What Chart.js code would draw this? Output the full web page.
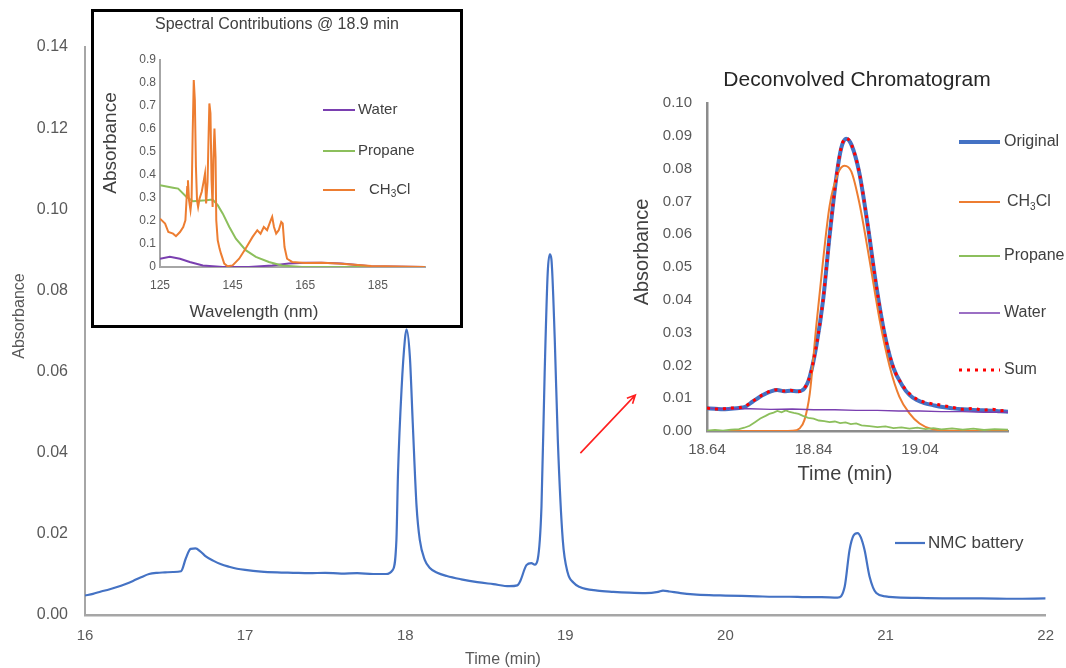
<!DOCTYPE html>
<html>
<head>
<meta charset="utf-8">
<script src="https://cdn.jsdelivr.net/npm/chart.js@4.4.1/dist/chart.umd.min.js"></script>
<style>
  html, body { margin: 0; padding: 0; background: #fff; }
  #wrap { position: relative; width: 1066px; height: 668px; overflow: hidden; }
  #main { position: absolute; left: 0; top: 0; }
  #specBox { position: absolute; left: 91px; top: 9px; width: 372px; height: 319px;
             box-sizing: border-box; border: 3px solid #000; background: #fff; }
  #spec { position: absolute; left: 0; top: 0; }
  #decon { position: absolute; left: 622px; top: 62px; }
</style>
</head>
<body>
<div id="wrap">
  <canvas id="main" width="1066" height="668"></canvas>
  <div id="specBox"><canvas id="spec" width="366" height="313"></canvas></div>
  <canvas id="decon" width="444" height="430"></canvas>
</div>
<script>
// ---- NMC battery chromatogram ----
const nmcTime = [16.00, 16.05, 16.10, 16.15, 16.20, 16.25, 16.30, 16.35, 16.40, 16.45, 16.50, 16.55,
  16.60, 16.63, 16.66, 16.69, 16.72, 16.75, 16.80, 16.85, 16.90, 16.95, 17.00, 17.10, 17.20, 17.30,
  17.40, 17.50, 17.60, 17.70, 17.80, 17.88, 17.92, 17.945, 17.955, 17.977, 17.998, 18.008, 18.029,
  18.047, 18.071, 18.091, 18.122, 18.154, 18.20, 18.26, 18.35, 18.45, 18.55, 18.65, 18.70, 18.72,
  18.757, 18.788, 18.809, 18.828, 18.851, 18.871, 18.890, 18.903, 18.913, 18.934, 18.953, 18.984,
  19.015, 19.05, 19.09, 19.20, 19.30, 19.40, 19.50, 19.58, 19.61, 19.65, 19.72, 19.80, 19.90, 20.00,
  20.10, 20.20, 20.30, 20.40, 20.50, 20.60, 20.70, 20.745, 20.775, 20.80, 20.825, 20.845, 20.869,
  20.90, 20.942, 21.00, 21.044, 21.20, 21.40, 21.60, 21.80, 22.00];
const nmcAbs = [0.0048, 0.0052, 0.0058, 0.0063, 0.0069, 0.0076, 0.0084, 0.0093, 0.0101, 0.0104, 0.0105, 0.0106,
  0.0108, 0.0140, 0.0163, 0.0164, 0.0157, 0.0146, 0.0134, 0.0125, 0.0119, 0.0114, 0.0111, 0.0107, 0.0105, 0.0104,
  0.0103, 0.0104, 0.0102, 0.0103, 0.0101, 0.0101, 0.0110, 0.0185, 0.0350, 0.0556, 0.0679, 0.0704, 0.0637,
  0.0474, 0.0267, 0.0185, 0.0136, 0.0116, 0.0104, 0.0096, 0.0088, 0.0081, 0.0076, 0.0071, 0.0073, 0.0085,
  0.0123, 0.0128, 0.0124, 0.0138, 0.0267, 0.0598, 0.0844, 0.0889, 0.0877, 0.0679, 0.0432, 0.0185,
  0.0104, 0.0080, 0.0069, 0.0060, 0.0057, 0.0055, 0.0054, 0.0057, 0.0060, 0.0058, 0.0054, 0.0051, 0.0049, 0.0048,
  0.0047, 0.0046, 0.0045, 0.0045, 0.0044, 0.0044, 0.0043, 0.0070, 0.0160, 0.0196, 0.0202, 0.0192, 0.0160,
  0.0095, 0.0054, 0.0046, 0.0044, 0.0042, 0.0041, 0.0041, 0.0040, 0.0041];
const mainXTicks = [16, 17, 18, 19, 20, 21, 22];
const mainYTicks = [0, 0.02, 0.04, 0.06, 0.08, 0.10, 0.12, 0.14];
const arrowFrom = [19.094, 0.0399];
const arrowTo = [19.437, 0.0542];

// ---- spectra at 18.9 min ----
const waterNm = [125, 127.7, 130.5, 133.2, 136.8, 142.3, 149.5, 155.9, 160.5, 165, 169.5, 175, 183, 198];
const waterSpec = [0.036, 0.044, 0.036, 0.022, 0.007, 0.0, 0.0, 0.007, 0.015, 0.019, 0.019, 0.015, 0.003, 0.0];
const propaneNm = [125, 128.6, 130, 132.3, 134.1, 137.7, 139.5, 140.9, 142.3, 144.1, 145.9, 148.6, 151.4,
  155, 158.6, 164.1, 198];
const propaneSpec = [0.356, 0.345, 0.341, 0.305, 0.286, 0.29, 0.293, 0.269, 0.232, 0.174, 0.123, 0.073, 0.044,
  0.022, 0.007, 0.0, 0.0];
const chlNm = [125, 126.4, 127.3, 128.6, 129.4, 130.5, 131.4, 132, 132.5, 132.7, 133, 133.4, 133.7, 134,
  134.3, 134.6, 134.9, 135.2, 135.5, 135.9, 136.5, 137, 137.4, 137.7, 138.1, 138.4, 138.6, 138.9, 139.2,
  139.5, 139.7, 140, 140.3, 140.5, 140.9, 141.4, 141.8, 142.7, 143.6, 145, 146.8, 148.6, 150.5, 151.8,
  152.7, 153.6, 154.5, 155.5, 155.9, 156.4, 157, 157.7, 158.4, 158.8, 159.3, 160, 161.4, 165, 169.5,
  174.1, 183.2, 198];
const chlSpec = [0.21, 0.189, 0.152, 0.145, 0.134, 0.152, 0.174, 0.203, 0.348, 0.377, 0.29, 0.247, 0.29, 0.58,
  0.813, 0.726, 0.435, 0.29, 0.261, 0.298, 0.327, 0.37, 0.406, 0.276, 0.37, 0.58, 0.711, 0.668, 0.377,
  0.261, 0.465, 0.602, 0.479, 0.203, 0.116, 0.08, 0.058, 0.015, 0.003, 0.007, 0.036, 0.08, 0.131, 0.16,
  0.145, 0.174, 0.16, 0.203, 0.218, 0.174, 0.145, 0.16, 0.196, 0.189, 0.087, 0.036, 0.022, 0.017, 0.019,
  0.015, 0.004, 0.0];
const specXTicks = [125, 145, 165, 185];
const specYTicks = [0, 0.1, 0.2, 0.3, 0.4, 0.5, 0.6, 0.7, 0.8, 0.9];

// ---- deconvolution of the 18.9 min peak ----
const peakTime = [18.640, 18.655, 18.670, 18.685, 18.700, 18.712, 18.726, 18.745, 18.760, 18.772, 18.785,
  18.797, 18.810, 18.823, 18.833, 18.845, 18.858, 18.870, 18.883, 18.892, 18.901, 18.911, 18.926, 18.942,
  18.958, 18.973, 18.989, 19.008, 19.020, 19.033, 19.048, 19.064, 19.082, 19.101, 19.120, 19.139, 19.158,
  19.176, 19.190, 19.205];
const originalAbs = [0.0069, 0.0068, 0.0066, 0.0068, 0.0070, 0.0074, 0.0090, 0.0110, 0.0121, 0.0125, 0.0121,
  0.0123, 0.0121, 0.0130, 0.0166, 0.0257, 0.0400, 0.0593, 0.0776, 0.0863, 0.0891, 0.0873, 0.0786, 0.0624,
  0.0440, 0.0298, 0.0196, 0.0135, 0.0110, 0.0095, 0.0085, 0.0079, 0.0073, 0.0069, 0.0066, 0.0064, 0.0063,
  0.0062, 0.0060, 0.0059];
const sumAbs = [0.0070, 0.0067, 0.0068, 0.0070, 0.0071, 0.0076, 0.0091, 0.0111, 0.0122, 0.0126, 0.0122,
  0.0124, 0.0120, 0.0131, 0.0167, 0.0258, 0.0401, 0.0594, 0.0777, 0.0865, 0.0893, 0.0874, 0.0787, 0.0625,
  0.0441, 0.0300, 0.0198, 0.0137, 0.0114, 0.0098, 0.0088, 0.0083, 0.0078, 0.0072, 0.0066, 0.0069, 0.0064,
  0.0066, 0.0062, 0.0063];
const chlTime = [18.640, 18.700, 18.760, 18.800, 18.814, 18.823, 18.833, 18.845, 18.858, 18.870, 18.886,
  18.898, 18.911, 18.926, 18.945, 18.964, 18.983, 19.001, 19.020, 19.039, 19.064, 19.100, 19.205];
const chlAbs = [0, 0, 0, 0.0001, 0.0008, 0.0034, 0.0115, 0.0318, 0.0522, 0.0685, 0.0786, 0.0809, 0.0791,
  0.0695, 0.0522, 0.0339, 0.0196, 0.0105, 0.0054, 0.0023, 0.0005, 0.0001, 0];
const propaneTime = [18.640, 18.655, 18.670, 18.685, 18.700, 18.710, 18.720, 18.730, 18.740, 18.750, 18.757,
  18.765, 18.772, 18.780, 18.788, 18.795, 18.803, 18.812, 18.820, 18.830, 18.840, 18.850, 18.860, 18.870,
  18.880, 18.890, 18.900, 18.910, 18.920, 18.930, 18.945, 18.960, 18.975, 18.990, 19.005, 19.020, 19.035,
  19.050, 19.065, 19.080, 19.100, 19.120, 19.140, 19.160, 19.180, 19.205];
const propaneAbs = [0.0001, 0.0003, 0.0001, 0.0004, 0.0006, 0.0010, 0.0016, 0.0027, 0.0038, 0.0046, 0.0052,
  0.0056, 0.0061, 0.0057, 0.0063, 0.0058, 0.0055, 0.0052, 0.0046, 0.0040, 0.0038, 0.0032, 0.0030, 0.0027,
  0.0029, 0.0024, 0.0026, 0.0021, 0.0023, 0.0017, 0.0015, 0.0012, 0.0014, 0.0009, 0.0011, 0.0007, 0.0010,
  0.0006, 0.0009, 0.0005, 0.0008, 0.0004, 0.0007, 0.0003, 0.0006, 0.0004];
const waterTime = [18.640, 18.680, 18.720, 18.760, 18.800, 18.840, 18.880, 18.920, 18.960, 19.000, 19.040,
  19.080, 19.120, 19.160, 19.205];
const waterAbs = [0.0069, 0.0068, 0.0068, 0.0066, 0.0067, 0.0065, 0.0065, 0.0063, 0.0063, 0.0061, 0.0061,
  0.0059, 0.0059, 0.0057, 0.0057];
const deconXTicks = [18.64, 18.84, 19.04];
const deconYTicks = [0, 0.01, 0.02, 0.03, 0.04, 0.05, 0.06, 0.07, 0.08, 0.09, 0.10];

const FONT = "'Liberation Sans', Arial, sans-serif";
const BLUE = '#4472C4', ORANGE = '#ED7D31', GREEN = '#8CBF5C', PURPLE = '#7A3FB0';

const pts = (xs, ys) => xs.map((x, i) => ({ x, y: ys[i] }));

// formula labels like CH3Cl get their digits written as subscripts
function drawLabel(ctx, label, x, y, size, color) {
  const chem = /^[A-Z][A-Za-z]*\d/.test(label);
  const parts = chem ? label.split(/(\d+)/) : [label];
  ctx.save();
  ctx.fillStyle = color;
  ctx.textAlign = 'left';
  ctx.textBaseline = 'middle';
  parts.forEach((p, k) => {
    if (!p) return;
    const sub = chem && k % 2 === 1;
    ctx.font = `${sub ? Math.round(size * 0.65) : size}px ${FONT}`;
    ctx.fillText(p, x, sub ? y + size * 0.3 : y);
    x += ctx.measureText(p).width;
  });
  ctx.restore();
}

// titles, axis titles and a plain side legend, all at fixed canvas spots
function textLayer(items, legend) {
  return {
    id: 'textLayer',
    afterDraw(chart) {
      const ctx = chart.ctx;
      items.forEach((t) => {
        ctx.save();
        ctx.font = `${t.size}px ${FONT}`;
        ctx.fillStyle = t.color || '#404040';
        ctx.textAlign = 'center';
        ctx.textBaseline = 'middle';
        ctx.translate(t.x, t.y);
        if (t.rotate) ctx.rotate(-Math.PI / 2);
        ctx.fillText(t.text, 0, 0);
        ctx.restore();
      });
      if (!legend) return;
      chart.data.datasets.forEach((ds, i) => {
        const y = legend.rows[i];
        ctx.save();
        ctx.strokeStyle = ds.borderColor;
        ctx.lineWidth = ds.borderWidth;
        ctx.setLineDash(ds.borderDash || []);
        ctx.beginPath();
        ctx.moveTo(legend.x, y);
        ctx.lineTo(legend.x + legend.len, y);
        ctx.stroke();
        ctx.restore();
        drawLabel(ctx, ds.label, legend.textX + (ds.legendIndent || 0), y, legend.size, legend.color || '#404040');
      });
    },
  };
}

const arrowLayer = {
  id: 'arrowLayer',
  afterDraw(chart) {
    const { ctx, scales: { x, y } } = chart;
    const x1 = x.getPixelForValue(arrowFrom[0]), y1 = y.getPixelForValue(arrowFrom[1]);
    const x2 = x.getPixelForValue(arrowTo[0]), y2 = y.getPixelForValue(arrowTo[1]);
    const a = Math.atan2(y2 - y1, x2 - x1);
    ctx.save();
    ctx.strokeStyle = '#FF2020';
    ctx.lineWidth = 1.6;
    ctx.beginPath();
    ctx.moveTo(x1, y1);
    ctx.lineTo(x2, y2);
    ctx.moveTo(x2 - 9 * Math.cos(a - 0.45), y2 - 9 * Math.sin(a - 0.45));
    ctx.lineTo(x2, y2);
    ctx.lineTo(x2 - 9 * Math.cos(a + 0.45), y2 - 9 * Math.sin(a + 0.45));
    ctx.stroke();
    ctx.restore();
  },
};

function axis(opts) {
  return {
    type: 'linear',
    min: opts.min,
    max: opts.max,
    grid: { display: false, drawTicks: false },
    border: { display: true, color: opts.lineColor || '#a6a6a6', width: opts.lineWidth || 2 },
    afterBuildTicks: (s) => { s.ticks = opts.ticks.map((v) => ({ value: v })); },
    afterFit: (s) => {
      if (opts.width) s.width = opts.width;
      if (opts.height) s.height = opts.height;
    },
    ticks: {
      autoSkip: false,
      maxRotation: 0,
      padding: opts.padding,
      color: '#595959',
      font: { family: FONT, size: opts.fontSize },
      callback: opts.fmt,
    },
  };
}

Chart.defaults.animation = false;
Chart.defaults.responsive = false;
Chart.defaults.plugins.legend.display = false;
Chart.defaults.plugins.tooltip.enabled = false;
Chart.defaults.elements.point.radius = 0;

new Chart(document.getElementById('main'), {
  type: 'line',
  data: {
    datasets: [{
      label: 'NMC battery',
      data: pts(nmcTime, nmcAbs),
      borderColor: BLUE,
      borderWidth: 2.2,
      cubicInterpolationMode: 'monotone',
    }],
  },
  options: {
    layout: { padding: { top: 47, right: 19, left: 0, bottom: 0 } },
    scales: {
      x: axis({ min: 16, max: 22, ticks: mainXTicks, height: 53, padding: 12, fontSize: 15,
        lineWidth: 2.5, fmt: (v) => String(v) }),
      y: axis({ min: 0, max: 0.14, ticks: mainYTicks, width: 85, padding: 17, fontSize: 16,
        fmt: (v) => v.toFixed(2) }),
    },
  },
  plugins: [
    arrowLayer,
    textLayer(
      [
        { text: 'Absorbance', x: 20, y: 316, size: 16, rotate: true, color: '#595959' },
        { text: 'Time (min)', x: 503, y: 660, size: 16, color: '#595959' },
      ],
      { rows: [543], x: 895, len: 30, textX: 928, size: 17 }
    ),
  ],
});

new Chart(document.getElementById('spec'), {
  type: 'line',
  data: {
    datasets: [
      { label: 'Water', data: pts(waterNm, waterSpec), borderColor: PURPLE, borderWidth: 2, order: 2 },
      { label: 'Propane', data: pts(propaneNm, propaneSpec), borderColor: GREEN, borderWidth: 2, order: 1 },
      { label: 'CH3Cl', data: pts(chlNm, chlSpec), borderColor: ORANGE, borderWidth: 2, order: 0, legendIndent: 11 },
    ],
  },
  options: {
    layout: { padding: { top: 48, right: 35, left: 0, bottom: 0 } },
    scales: {
      x: axis({ min: 125, max: 198, ticks: specXTicks, height: 58, padding: 11, fontSize: 12,
        fmt: (v) => String(v) }),
      y: axis({ min: 0, max: 0.9, ticks: specYTicks, width: 66, padding: 4, fontSize: 12,
        fmt: (v) => (v === 0 ? '0' : v.toFixed(1)) }),
    },
  },
  plugins: [
    textLayer(
      [
        { text: 'Spectral Contributions @ 18.9 min', x: 183, y: 13, size: 16 },
        { text: 'Wavelength (nm)', x: 160, y: 300, size: 17 },
        { text: 'Absorbance', x: 17, y: 131, size: 19, rotate: true },
      ],
      { rows: [98, 139, 178], x: 229, len: 32, textX: 264, size: 15 }
    ),
  ],
});

new Chart(document.getElementById('decon'), {
  type: 'line',
  data: {
    datasets: [
      { label: 'Original', data: pts(peakTime, originalAbs), borderColor: BLUE, borderWidth: 4,
        cubicInterpolationMode: 'monotone', order: 4 },
      { label: 'CH3Cl', data: pts(chlTime, chlAbs), borderColor: ORANGE, borderWidth: 2,
        cubicInterpolationMode: 'monotone', order: 3, legendIndent: 3 },
      { label: 'Propane', data: pts(propaneTime, propaneAbs), borderColor: GREEN, borderWidth: 1.8, order: 2 },
      { label: 'Water', data: pts(waterTime, waterAbs), borderColor: PURPLE, borderWidth: 1.4, order: 1 },
      { label: 'Sum', data: pts(peakTime, sumAbs), borderColor: '#FF0000', borderWidth: 3,
        borderDash: [3, 5], cubicInterpolationMode: 'monotone', order: 0 },
    ],
  },
  options: {
    layout: { padding: { top: 41, right: 58, left: 0, bottom: 0 } },
    scales: {
      x: axis({ min: 18.64, max: 19.205, ticks: deconXTicks, height: 61, padding: 10, fontSize: 15,
        lineColor: '#8c8c8c', lineWidth: 2.5, fmt: (v) => v.toFixed(2) }),
      y: axis({ min: 0, max: 0.10, ticks: deconYTicks, width: 85, padding: 15, fontSize: 15,
        lineColor: '#8c8c8c', lineWidth: 2.5, fmt: (v) => v.toFixed(2) }),
    },
  },
  plugins: [
    textLayer(
      [
        { text: 'Deconvolved Chromatogram', x: 235, y: 18, size: 21, color: '#262626' },
        { text: 'Time (min)', x: 223, y: 412, size: 20 },
        { text: 'Absorbance', x: 20, y: 190, size: 20, rotate: true },
      ],
      { rows: [80, 140, 194, 251, 308], x: 337, len: 41, textX: 382, size: 16 }
    ),
  ],
});
</script>
</body>
</html>
